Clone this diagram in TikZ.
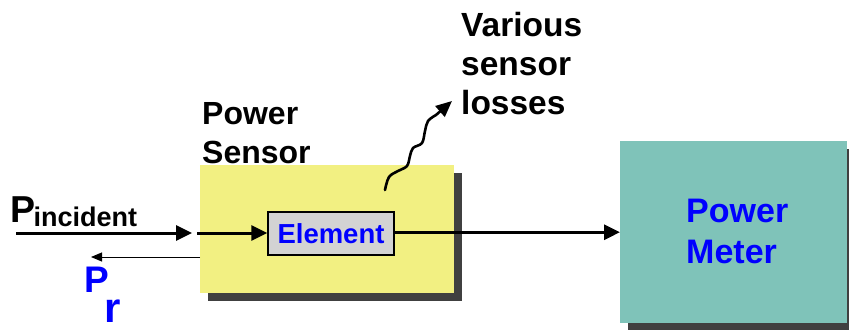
\documentclass[tikz,border=0pt]{standalone}
\usepackage{fontspec}
\setmainfont{Liberation Sans}
\usetikzlibrary{arrows.meta}
\definecolor{sensoryellow}{HTML}{F2F082}
\definecolor{meterteal}{HTML}{7FC3B9}
\definecolor{shadowgray}{HTML}{404040}
\definecolor{elemgray}{HTML}{D3D3D3}
\definecolor{textblue}{HTML}{0000FF}
\begin{document}
\begin{tikzpicture}[x=1pt,y=-1pt,
  plainbox/.style={draw=none, inner sep=0pt, anchor=north west},
  label/.style={inner sep=0pt, align=left, font=\bfseries\fontsize{32}{39}\selectfont},
  bigarrow/.style={line width=3pt, -{Triangle[length=16pt,width=15pt]}},
  thinarrow/.style={line width=1pt, -{Triangle[length=11pt,width=9pt]}},
  wavyarrow/.style={line width=2.6pt, line cap=round, -{Triangle[length=16pt,width=14pt]}}]
\useasboundingbox (0,0) rectangle (849,330);
% shadows
\fill[shadowgray] (208,173) rectangle (462,301);
\fill[shadowgray] (628,149) rectangle (849,330);
% boxes
\node[plainbox, fill=sensoryellow, minimum width=254pt, minimum height=128pt] (sensor) at (200,165) {};
\node[plainbox, fill=meterteal, minimum width=227pt, minimum height=182pt] (meter) at (620,141) {};
\node[draw=black, line width=1.5pt, fill=elemgray, minimum width=126pt, minimum height=43pt, inner sep=0pt,
      font=\bfseries\fontsize{27.5}{30}\selectfont, text=textblue] (elem) at (331,233.5) {Element};
% labels
\node[label, anchor=north west] (senslabel) at (202,102) {Power\\Sensor};
\node[label, anchor=north west, font=\bfseries\fontsize{33.5}{39}\selectfont] (losslabel) at (461,12) {Various\\sensor\\losses};
\node[label, anchor=north west, text=textblue, font=\bfseries\fontsize{34}{41}\selectfont] (meterlabel) at (686,199) {Power\\Meter};
\node[inner sep=0pt, anchor=base west] (pinc) at (10,222)
  {\bfseries\fontsize{37.5}{40}\selectfont P\hspace{-1.5pt}\raisebox{-4pt}{\fontsize{27}{30}\selectfont incident}};
\node[inner sep=0pt, anchor=base west, text=textblue] (pr) at (84,292)
  {\bfseries\fontsize{37}{40}\selectfont P\hspace{-4pt}\raisebox{-30pt}{\fontsize{42}{44}\selectfont r}};
% connectors
\coordinate (inStart) at (16,233);
\coordinate (inEnd) at (192,233);
\coordinate (inStart2) at (197,233);
\coordinate (refEnd) at (91,257);
\draw[bigarrow] (inStart) -- (inEnd);
\draw[bigarrow] (inStart2) -- (elem.west |- inStart2);
\draw[bigarrow] (elem.east |- meter.west) -- (meter.west);
\draw[thinarrow] (sensor.west |- refEnd) -- (refEnd);
\coordinate (wStart) at (385,190);
\coordinate (wEnd) at (452,101);
\draw[wavyarrow] plot[smooth, tension=0.6] coordinates {(wStart) (389,177) (398,171) (407,166) (410,156) (413,148) (422,143) (425,131) (428,121) (436,115)} -- (wEnd);
\end{tikzpicture}
\end{document}
